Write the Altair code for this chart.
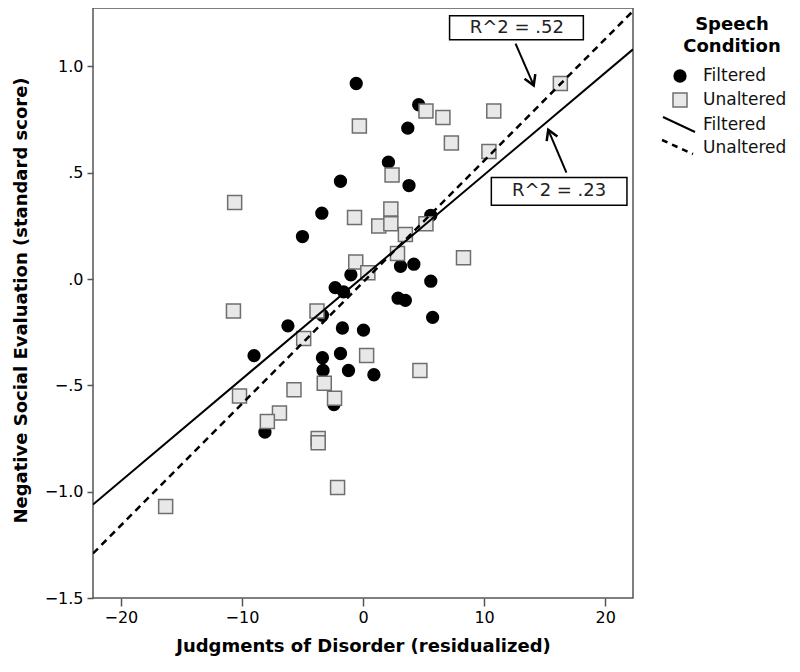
import altair as alt
import pandas as pd

# ---------------- data ----------------
# Filtered speech condition (filled circles)
filt_x = [-0.56, 4.6, 3.7, 2.1, 3.8, -1.86, -3.4, -5.0, 5.6, 3.5,
          3.1, 4.2, -1.0, -2.3, -1.6, 5.6, 2.9, 3.5, 5.75, -3.35,
          -6.2, -1.7, 0.04, -9.0, -3.35, -1.86, -3.3, -1.2, 0.9, -2.4,
          -8.1]
filt_y = [0.92, 0.82, 0.71, 0.55, 0.44, 0.46, 0.31, 0.20, 0.30, 0.21,
          0.06, 0.07, 0.02, -0.04, -0.06, -0.01, -0.09, -0.10, -0.18, -0.17,
          -0.22, -0.23, -0.24, -0.36, -0.37, -0.35, -0.43, -0.43, -0.45, -0.59,
          -0.72]

# Unaltered speech condition (grey squares)
unal_x = [16.3, 5.2, 6.6, 10.8, -0.3, 7.3, 10.4, 2.4, -10.6, 2.3,
          -0.7, 1.3, 2.3, 5.2, 3.5, 2.85, 8.3, -0.6, 0.4, -10.7,
          -3.8, -4.9, 0.3, 4.7, -3.2, -5.7, -10.2, -2.35, -6.9, -7.9,
          -3.7, -3.7, -2.1, -16.3]
unal_y = [0.92, 0.79, 0.76, 0.79, 0.72, 0.64, 0.60, 0.49, 0.36, 0.33,
          0.29, 0.25, 0.26, 0.26, 0.21, 0.12, 0.10, 0.08, 0.03, -0.15,
          -0.15, -0.28, -0.36, -0.43, -0.49, -0.52, -0.55, -0.56, -0.63, -0.67,
          -0.75, -0.77, -0.98, -1.07]

conditions = ["Filtered", "Unaltered"]
fit_intercept = [0.01, -0.015]
fit_slope = [0.048, 0.0572]
r2_text = ["R^2 = .23", "R^2 = .52"]

x_domain = [-22.3, 22.3]
y_domain = [-1.5, 1.275]
x_ticks = [-20, -10, 0, 10, 20]
y_ticks = [-1.5, -1.0, -0.5, 0.0, 0.5, 1.0]

FONT = "DejaVu Sans"

# ---------------- tables ----------------
pts = pd.DataFrame({
    "x": filt_x + unal_x,
    "y": filt_y + unal_y,
    "cond": ["Filtered"] * len(filt_x) + ["Unaltered"] * len(unal_x),
})

rows = []
for c, b0, b1 in zip(conditions, fit_intercept, fit_slope):
    for xv in x_domain:
        rows.append({"x": xv, "y": b0 + b1 * xv, "cond": c})
fit_lines = pd.DataFrame(rows)

# annotation placement (data coordinates)
ann = pd.DataFrame({
    "label": [r2_text[1], r2_text[0]],
    "bx": [7.15, 10.6], "bx2": [18.2, 21.8],
    "by": [1.126, 0.347], "by2": [1.238, 0.478],
    "tx": [12.7, 16.2], "ty": [1.182, 0.413],
    "ax": [12.6, 16.8], "ay": [1.107, 0.501],
    "hx": [14.1, 15.3], "hy": [0.911, 0.702],
    "angle": [337, 157],
})

one = pd.DataFrame({"k": [0]})

# ---------------- scales / axes ----------------
xs = alt.Scale(domain=x_domain, nice=False, zero=False)
ys = alt.Scale(domain=y_domain, nice=False, zero=False)

x_axis = alt.Axis(
    values=x_ticks, title="Judgments of Disorder (residualized)", grid=False,
    domain=False, tickSize=8, tickWidth=1.5, tickColor="#555",
    labelFont=FONT, labelFontSize=16, labelColor="black", labelPadding=3,
    titleFont=FONT, titleFontSize=18, titleFontWeight="bold",
    titleColor="black", titlePadding=12,
)
y_axis = alt.Axis(
    values=y_ticks, title="Negative Social Evaluation (standard score)",
    grid=False, domain=False, tickSize=6, tickWidth=1.5, tickColor="#555",
    labelFont=FONT, labelFontSize=16, labelColor="black", labelPadding=4,
    labelExpr="replace(format(datum.value, '.1f'), '0.', '.')",
    titleFont=FONT, titleFontSize=18, titleFontWeight="bold",
    titleColor="black", titleX=-63, titleY=292, titleAngle=270,
    titleAlign="center", titleBaseline="bottom",
)


def X(f):
    return alt.X(f"{f}:Q", scale=xs, axis=x_axis)


def Y(f):
    return alt.Y(f"{f}:Q", scale=ys, axis=y_axis)


# ---------------- layers ----------------
circles = alt.Chart(pts).transform_filter(alt.datum.cond == "Filtered").mark_point(
    shape="circle", filled=True, color="black", size=177, opacity=1
).encode(x=X("x"), y=Y("y"))

squares = alt.Chart(pts).transform_filter(alt.datum.cond == "Unaltered").mark_point(
    shape="square", filled=True, fill="#e8e8e8", stroke="#6e6e6e",
    strokeWidth=1.5, size=196, opacity=1
).encode(x=X("x"), y=Y("y"))

solid = alt.Chart(fit_lines).transform_filter(alt.datum.cond == "Filtered").mark_line(
    color="black", strokeWidth=2, clip=True
).encode(x=X("x"), y=Y("y"))

dashed = alt.Chart(fit_lines).transform_filter(alt.datum.cond == "Unaltered").mark_line(
    color="black", strokeWidth=2.5, strokeDash=[7, 5], clip=True
).encode(x=X("x"), y=Y("y"))

boxes = alt.Chart(ann).mark_rect(fill="white", stroke="black", strokeWidth=1.5).encode(
    x=X("bx"), x2="bx2:Q", y=Y("by"), y2="by2:Q"
)
box_text = alt.Chart(ann).mark_text(
    font=FONT, fontSize=18, color="#222", align="center", baseline="middle"
).encode(x=X("tx"), y=Y("ty"), text="label:N")

shafts = alt.Chart(ann).mark_rule(color="black", strokeWidth=2).encode(
    x=X("ax"), y=Y("ay"), x2="hx:Q", y2="hy:Q"
)
heads = alt.Chart(ann).mark_point(
    shape="M -0.6 -1 L 0 0 L 0.6 -1", filled=False, stroke="black",
    strokeWidth=2.5, size=380, opacity=1
).encode(x=X("hx"), y=Y("hy"), angle=alt.Angle("angle:Q", scale=None))

# ---------------- manual legend (pixel positions relative to plot) ----------------
leg = []
leg.append(alt.Chart(one).mark_text(
    text="Speech", font=FONT, fontSize=18, fontWeight="bold", align="center",
    baseline="alphabetic", color="black"
).encode(x=alt.value(639), y=alt.value(22)))
leg.append(alt.Chart(one).mark_text(
    text="Condition", font=FONT, fontSize=18, fontWeight="bold", align="center",
    baseline="alphabetic", color="black"
).encode(x=alt.value(639), y=alt.value(44)))
leg.append(alt.Chart(one).mark_point(
    shape="circle", filled=True, color="black", size=177, opacity=1
).encode(x=alt.value(587), y=alt.value(68)))
leg.append(alt.Chart(one).mark_point(
    shape="square", filled=True, fill="#e8e8e8", stroke="#6e6e6e",
    strokeWidth=1.5, size=196, opacity=1
).encode(x=alt.value(587), y=alt.value(92)))
leg.append(alt.Chart(one).mark_rule(color="black", strokeWidth=2).encode(
    x=alt.value(570), x2=alt.value(602), y=alt.value(109), y2=alt.value(124)))
leg.append(alt.Chart(one).mark_rule(color="black", strokeWidth=2.5, strokeDash=[6, 5]).encode(
    x=alt.value(569), x2=alt.value(600), y=alt.value(132), y2=alt.value(146)))
for lab, yy in zip([conditions[0], conditions[1], conditions[0], conditions[1]],
                   [68, 92, 117, 140]):
    leg.append(alt.Chart(one).mark_text(
        text=lab, font=FONT, fontSize=17, align="left", baseline="middle",
        color="#111"
    ).encode(x=alt.value(610), y=alt.value(yy)))

chart = alt.layer(
    circles, squares, solid, dashed, shafts, heads, boxes, box_text, *leg
).properties(
    width=540, height=590,
    padding={"left": 85, "top": 0, "right": 155, "bottom": 60},
    autosize=alt.AutoSizeParams(type="none"),
).configure_view(stroke="#555", strokeWidth=1.5)

chart.save("out.html", embed_options={"renderer": "svg", "actions": False})
